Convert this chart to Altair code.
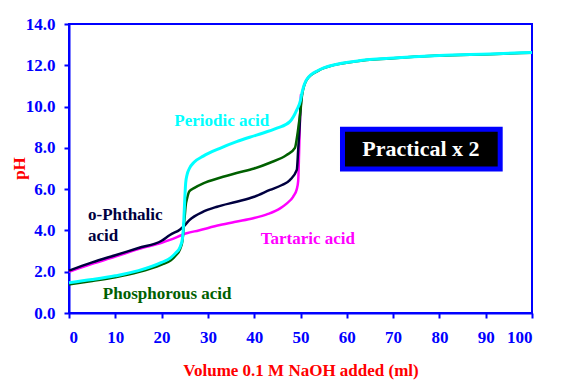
import altair as alt
import pandas as pd

# Periodic acid (cyan)
periodic_x = [0, 5, 10, 15, 20, 22, 23, 24, 24.5, 24.8, 25, 25.2, 25.5, 26, 27, 29, 32.6, 36.2, 40.5, 44.9,
              47.7, 49.2, 50, 50.3, 51.3, 53.8, 55, 62, 69.3, 80, 90.9, 100]
periodic_y = [1.47, 1.62, 1.8, 2.05, 2.45, 2.68, 2.9, 3.2, 3.6, 4.5, 5.5, 6.3, 6.7, 7.0, 7.3, 7.6, 7.98, 8.3, 8.62, 8.95,
              9.27, 9.84, 10.3, 10.64, 11.3, 11.75, 11.87, 12.2, 12.34, 12.48, 12.55, 12.62]

# Phosphorous acid (green)
phos_x = [0, 5, 10, 15, 20, 22, 23, 24, 24.5, 24.8, 25, 25.2, 25.5, 26, 27, 29, 32.6, 36.2, 40, 43.4, 47, 48.8,
          49.3, 49.6, 50, 50.3, 51.3, 53.8, 55, 62, 69.3, 80, 90.9, 100]
phos_y = [1.38, 1.55, 1.73, 1.98, 2.35, 2.55, 2.78, 3.1, 3.5, 4.2, 4.7, 5.2, 5.55, 5.9, 6.05, 6.28, 6.55, 6.78, 7.0, 7.28,
          7.65, 8.0, 8.6, 9.1, 9.8, 10.5, 11.28, 11.73, 11.86, 12.19, 12.33, 12.47, 12.54, 12.61]

# o-Phthalic acid (navy)
phth_x = [0, 5, 10, 15, 20, 21.8, 24, 24.7, 26, 29, 32, 36.2, 40, 43.4, 46, 47.7, 49.2, 49.5, 49.8, 50, 50.3]
phth_y = [2.05, 2.45, 2.8, 3.15, 3.5, 3.78, 4.05, 4.18, 4.5, 4.91, 5.15, 5.39, 5.63, 5.96, 6.2, 6.44, 6.93, 7.9, 9.0,
          9.9, 10.6]

# Tartaric acid (magenta)
tart_x = [0, 5, 10, 15, 20, 21.8, 25.4, 28, 32.6, 36, 39.8, 43, 45.6, 47, 48.4, 49.2, 49.5, 49.7, 49.9, 50.1]
tart_y = [2.0, 2.38, 2.73, 3.1, 3.4, 3.54, 3.86, 4.0, 4.26, 4.42, 4.59, 4.8, 5.07, 5.3, 5.63, 6.0, 6.4, 7.8, 9.5, 10.6]

x_ticks = [0, 10, 20, 30, 40, 50, 60, 70, 80, 90, 100]
y_ticks = [0, 2, 4, 6, 8, 10, 12, 14]

FONT = "Times New Roman, Liberation Serif, DejaVu Serif, serif"

xs = alt.Scale(domain=[0, 100], nice=False)
ys = alt.Scale(domain=[0, 14], nice=False)

x_axis = alt.Axis(values=x_ticks, title="Volume 0.1 M NaOH added (ml)", labelPadding=11,
                  titleY=57, titleBaseline="middle")
y_axis = alt.Axis(values=y_ticks, format=".1f", title="pH", labelPadding=9,
                  titleX=-50, titleY=144, titleAngle=-90, titleBaseline="middle", titleAlign="center")


def line(xv, yv, color, width=2.5):
    df = pd.DataFrame({"v": xv, "ph": yv})
    return alt.Chart(df).mark_line(color=color, strokeWidth=width, interpolate="monotone").encode(
        x=alt.X("v:Q", scale=xs, axis=x_axis),
        y=alt.Y("ph:Q", scale=ys, axis=y_axis),
    )


def label(text, xv, yv, color, size=17, align="center"):
    df = pd.DataFrame({"v": [xv], "ph": [yv], "t": [text]})
    return alt.Chart(df).mark_text(color=color, font=FONT, fontWeight="bold", fontSize=size,
                                   align=align, baseline="middle").encode(
        x=alt.X("v:Q", scale=xs), y=alt.Y("ph:Q", scale=ys), text="t:N")


box_df = pd.DataFrame({"x1": [59.07], "x2": [93.13], "y1": [6.97], "y2": [8.9]})
box = alt.Chart(box_df).mark_rect(fill="black", stroke="#0000FF", strokeWidth=5).encode(
    x=alt.X("x1:Q", scale=xs), x2="x2:Q", y=alt.Y("y1:Q", scale=ys), y2="y2:Q")

chart = alt.layer(
    line(tart_x, tart_y, "#FF00FF"),
    line(phth_x, phth_y, "#000040"),
    line(phos_x, phos_y, "#006000"),
    line(periodic_x, periodic_y, "#00FFFF", 3),
    label("Periodic acid", 33.0, 9.3, "#00FFFF"),
    label("o-Phthalic", 4.1, 4.75, "#000040", align="left"),
    label("acid", 4.1, 3.73, "#000040", align="left"),
    label("Tartaric acid", 51.6, 3.6, "#FF00FF"),
    label("Phosphorous acid", 21.2, 0.94, "#006000"),
    box,
    label("Practical x 2", 76.0, 7.93, "white", size=22),
).properties(
    width=463, height=289,
    autosize=alt.AutoSizeParams(type="none"),
    padding={"left": 61, "top": 16, "right": 32, "bottom": 69},
).configure_view(
    stroke="#0000FF", strokeWidth=2
).configure_axis(
    domainColor="#0000FF", domainWidth=2, tickColor="#0000FF", tickWidth=2, tickSize=5,
    labelColor="#0000FF", labelFont=FONT, labelFontWeight="bold", labelFontSize=17,
    titleColor="#FF0000", titleFont=FONT, titleFontWeight="bold", titleFontSize=17,
    grid=False,
)

chart.save("out.html", embed_options={"renderer": "svg", "actions": False})
